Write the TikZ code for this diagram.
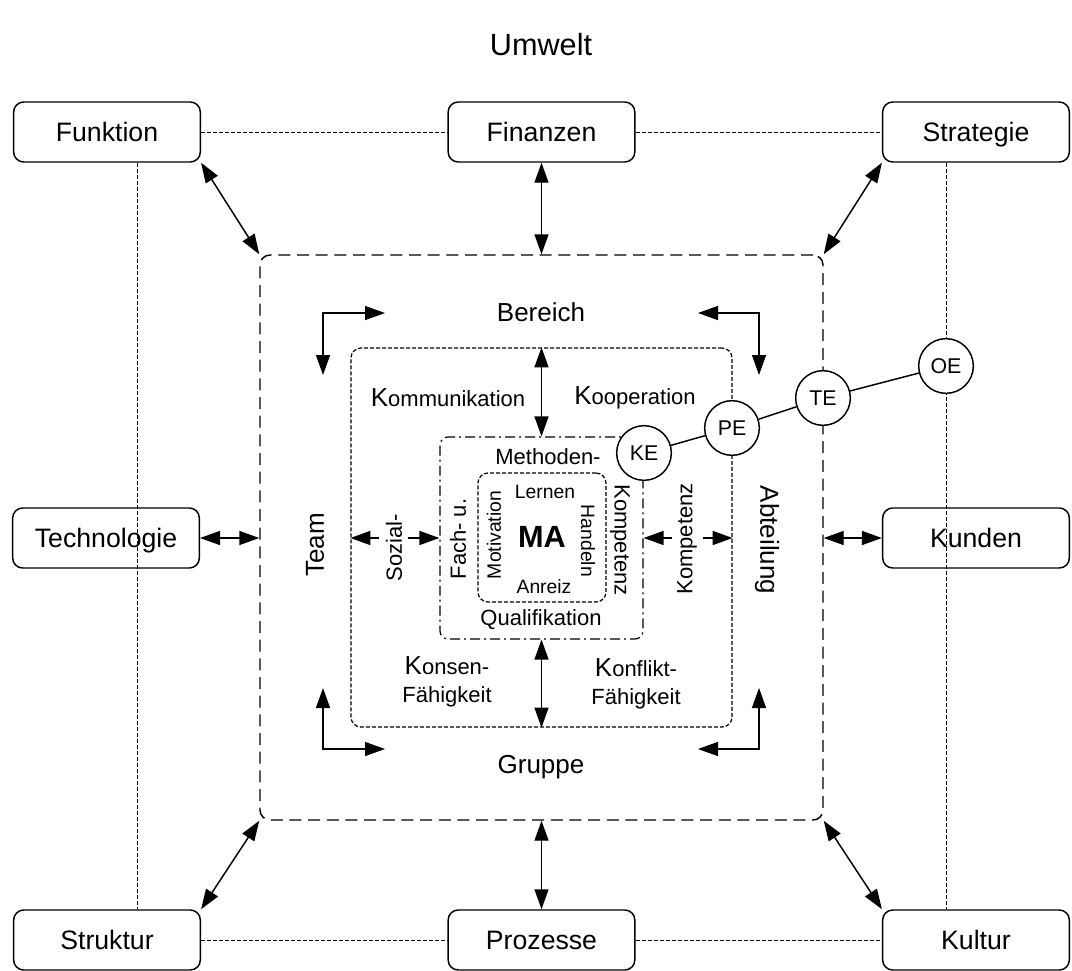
\documentclass[tikz,border=0pt]{standalone}
\usepackage{fontspec}
\setmainfont{Liberation Sans}
\usetikzlibrary{arrows.meta,calc}
% larger initial K used in the ring labels
\newcommand{\capK}{{\fontsize{19.5pt}{19.5pt}\selectfont K}}
\begin{document}
\begin{tikzpicture}[x=0.75pt,y=-0.75pt,
  box/.style={draw, line width=1.1pt, rounded corners=7.5pt, minimum width=140pt,
    minimum height=45pt, inner sep=0pt, text height=15pt, text depth=1pt,
    font=\fontsize{20pt}{20pt}\selectfont},
  conn/.style={line width=0.75pt, dash pattern=on 3pt off 1.5pt},
  outerring/.style={draw, line width=1.1pt, rounded corners=7.5pt, dash pattern=on 9pt off 5pt, inner sep=0pt},
  midring/.style={draw, line width=0.9pt, rounded corners=7.5pt, dash pattern=on 3pt off 1.5pt, inner sep=0pt},
  innerring/.style={draw, line width=0.9pt, rounded corners=6pt, dash pattern=on 7.5pt off 3pt on 1.5pt off 3pt, inner sep=0pt},
  corering/.style={draw, line width=0.9pt, rounded corners=7.5pt, dash pattern=on 3pt off 1.5pt, inner sep=0pt},
  dbl/.style={line width=1.1pt, {Triangle[length=15pt,width=10.5pt]}-{Triangle[length=15pt,width=10.5pt]}},
  sgl/.style={line width=1.1pt, -{Triangle[length=15pt,width=10.5pt]}},
  circ/.style={circle, draw, fill=white, line width=1.1pt, minimum size=41pt, inner sep=0pt,
    font=\fontsize{16pt}{16pt}\selectfont},
  bigtxt/.style={font=\fontsize{19.5pt}{19.5pt}\selectfont},
  midtxt/.style={font=\fontsize{16.5pt}{21pt}\selectfont, align=center},
  smalltxt/.style={font=\fontsize{14.5pt}{14.5pt}\selectfont},
]
\useasboundingbox (0,0) rectangle (1072,971);

% title
\node[font=\fontsize{23pt}{23pt}\selectfont] (umwelt) at (541,45) {Umwelt};

% outer factor boxes
\node[box] (Funktion)    at (107,132) {Funktion};
\node[box] (Finanzen)    at (541.5,132) {Finanzen};
\node[box] (Strategie)   at (976,132) {Strategie};
\node[box] (Technologie) at (106,538) {Technologie};
\node[box] (Kunden)      at (976,538) {Kunden};
\node[box] (Struktur)    at (107,940) {Struktur};
\node[box] (Prozesse)    at (541.5,940) {Prozesse};
\node[box] (Kultur)      at (976,940) {Kultur};

% dashed links between the factor boxes
\draw[conn] (Funktion) -- (Finanzen);
\draw[conn] (Finanzen) -- (Strategie);
\draw[conn] (Struktur) -- (Prozesse);
\draw[conn] (Prozesse) -- (Kultur);
\draw[conn] ([xshift=23pt]Funktion.south) -- ([xshift=23pt]Struktur.north);
\draw[conn] ([xshift=-22pt]Strategie.south) -- ([xshift=-22pt]Kultur.north);

% nested rings
\node[outerring, minimum width=422.25pt, minimum height=423.75pt] (outer) at (541.5,537.5) {};
\node[midring, minimum width=285.75pt, minimum height=284.25pt] (mid) at (541.5,537.5) {};
\node[innerring, minimum width=152.25pt, minimum height=151.5pt] (inner) at (541.5,538) {};
\node[corering, minimum width=96pt, minimum height=96.75pt] (core) at (542,537.5) {};

% arrows between factors and the outer ring
\draw[dbl] (Funktion.south east) -- (outer.north west);
\draw[dbl] (Strategie.south west) -- (outer.north east);
\draw[dbl] (Struktur.north east) -- (outer.south west);
\draw[dbl] (Kultur.north west) -- (outer.south east);
\draw[dbl] (Finanzen.south) -- (outer.north);
\draw[dbl] (Prozesse.north) -- (outer.south);
\draw[dbl] (Technologie.east) -- (Technologie.east -| outer.west);
\draw[dbl] (Kunden.west) -- (Kunden.west -| outer.east);

% ring labels
\node[bigtxt] (bereich) at (541,312) {Bereich};
\node[bigtxt] (gruppe) at (541,767) {Gruppe};
\node[bigtxt, rotate=90] (team) at (315,545) {Team};
\node[bigtxt, rotate=-90] (abteilung) at (767,540) {Abteilung};

% corner elbow arrows
\coordinate (tlA) at (323,375); \coordinate (tlB) at (385,313);
\draw[dbl] (tlA) |- (tlB);
\coordinate (trA) at (759,375); \coordinate (trB) at (698,313);
\draw[dbl] (trA) |- (trB);
\coordinate (blA) at (323,688); \coordinate (blB) at (385,749);
\draw[dbl] (blA) |- (blB);
\coordinate (brA) at (759,688); \coordinate (brB) at (698,749);
\draw[dbl] (brA) |- (brB);

% middle ring labels
\node[midtxt] (komm) at (448,398) {\capK ommunikation};
\node[midtxt] (koop) at (635,398) {\capK ooperation};
\node[midtxt] (konsens) at (447,682) {\capK onsen-\\Fähigkeit};
\node[midtxt] (konflikt) at (636,684) {\capK onflikt-\\Fähigkeit};
\node[midtxt, rotate=90] (sozial) at (394,548) {Sozial-};
\node[midtxt, rotate=90] (kompR) at (687,539) {Kompetenz};

% arrows between middle and inner ring
\draw[dbl] (mid.north) -- (inner.north);
\draw[dbl] (inner.south) -- (mid.south);
\coordinate (sozA) at (379,538); \draw[sgl] (sozA) -- (sozA -| mid.west);
\coordinate (sozB) at (408,538); \draw[sgl] (sozB) -- (sozB -| inner.west);
\coordinate (kmpA) at (672,538); \draw[sgl] (kmpA) -- (kmpA -| inner.east);
\coordinate (kmpB) at (703,538); \draw[sgl] (kmpB) -- (kmpB -| mid.east);

% inner ring labels
\node[midtxt] (methoden) at (548,457) {Methoden-};
\node[midtxt] (quali) at (541,620) {Qualifikation};
\node[midtxt, rotate=90] (fach) at (458,539) {Fach- u.};
\node[midtxt, rotate=-90] (kompI) at (620,540) {Kompetenz};

% core labels
\node[smalltxt] (lernen) at (545,492) {Lernen};
\node[smalltxt] (anreiz) at (544,587) {Anreiz};
\node[smalltxt, rotate=90] (motiv) at (494,535) {Motivation};
\node[smalltxt, rotate=-90] (handeln) at (588,541) {Handeln};
\node[font=\fontsize{23pt}{23pt}\selectfont\bfseries] (ma) at (542,537) {MA};

% development levels along the rings
\node[circ] (KE) at (644,453) {KE};
\node[circ] (PE) at (732,428) {PE};
\node[circ] (TE) at (823,398) {TE};
\node[circ] (OE) at (946,366) {OE};
\draw[line width=1.1pt] (KE) -- (PE);
\draw[line width=1.1pt] (PE) -- (TE);
\draw[line width=1.1pt] (TE) -- (OE);
\end{tikzpicture}
\end{document}
